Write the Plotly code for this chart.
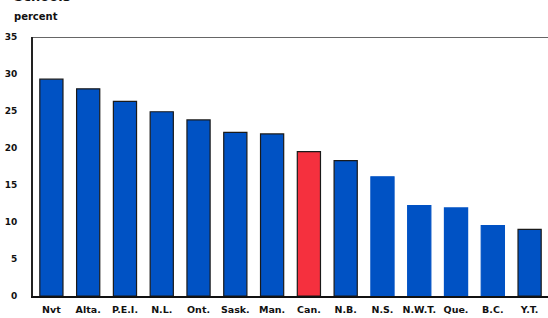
import plotly.graph_objects as go

categories = ["Nvt", "Alta.", "P.E.I.", "N.L.", "Ont.", "Sask.", "Man.", "Can.",
              "N.B.", "N.S.", "N.W.T.", "Que.", "B.C.", "Y.T."]
values = [29.3, 28.0, 26.3, 24.9, 23.8, 22.1, 21.9, 19.5, 18.3, 16.1, 12.2, 11.9, 9.5, 9.0]
y_ticks = [0, 5, 10, 15, 20, 25, 30, 35]

BLUE = "#0052c4"
RED = "#f5303e"
colors = [RED if c == "Can." else BLUE for c in categories]
outline = ["#1a1a1a" if c not in ("N.S.", "N.W.T.", "Que.", "B.C.") else BLUE for c in categories]

fig = go.Figure(go.Bar(
    x=categories, y=values,
    marker=dict(color=colors, line=dict(color=outline, width=1.2)),
))

tf = dict(family="DejaVu Sans, Arial, sans-serif", size=9, color="#111111")
xf = dict(family="DejaVu Sans, Arial, sans-serif", size=9.5, color="#111111")

fig.update_layout(
    width=548, height=318,
    margin=dict(l=33, r=0, t=37, b=22, autoexpand=False),
    paper_bgcolor="white", plot_bgcolor="white",
    bargap=0.37,
    showlegend=False,
    font=tf,
    xaxis=dict(
        showgrid=False, showline=True, linecolor="#111111", linewidth=2,
        ticks="", tickfont=xf, fixedrange=True, automargin=False, ticklabelstandoff=4,
        tickvals=categories, ticktext=["<b>%s</b>" % c for c in categories],
    ),
    yaxis=dict(
        range=[0, 35], tickvals=y_ticks, ticktext=["<b>%d</b>" % v for v in y_ticks],
        showgrid=False, showline=True, linecolor="#222222", linewidth=2,
        ticks="", ticklabelstandoff=12, tickfont=tf, zeroline=False, automargin=False,
    ),
    shapes=[dict(type="line", xref="paper", yref="y", x0=0, x1=1, y0=35, y1=35,
                 line=dict(color="#666666", width=2))],
    annotations=[
        dict(text="<b>percent</b>", xref="paper", yref="paper", x=-0.041, y=1.0,
             yshift=21, xanchor="left", yanchor="middle", showarrow=False,
             font=dict(family="DejaVu Sans, Arial, sans-serif", size=10, color="#111111")),
        dict(text="<b>Schools</b>", xref="paper", yref="paper", x=-0.041, y=1.0,
             yshift=41, xanchor="left", yanchor="middle", showarrow=False,
             font=dict(family="DejaVu Sans, Arial, sans-serif", size=13, color="#111111")),
    ],
)

fig.write_html("out.html", config={"displayModeBar": False},
               post_script="document.body.style.margin='0px';")
